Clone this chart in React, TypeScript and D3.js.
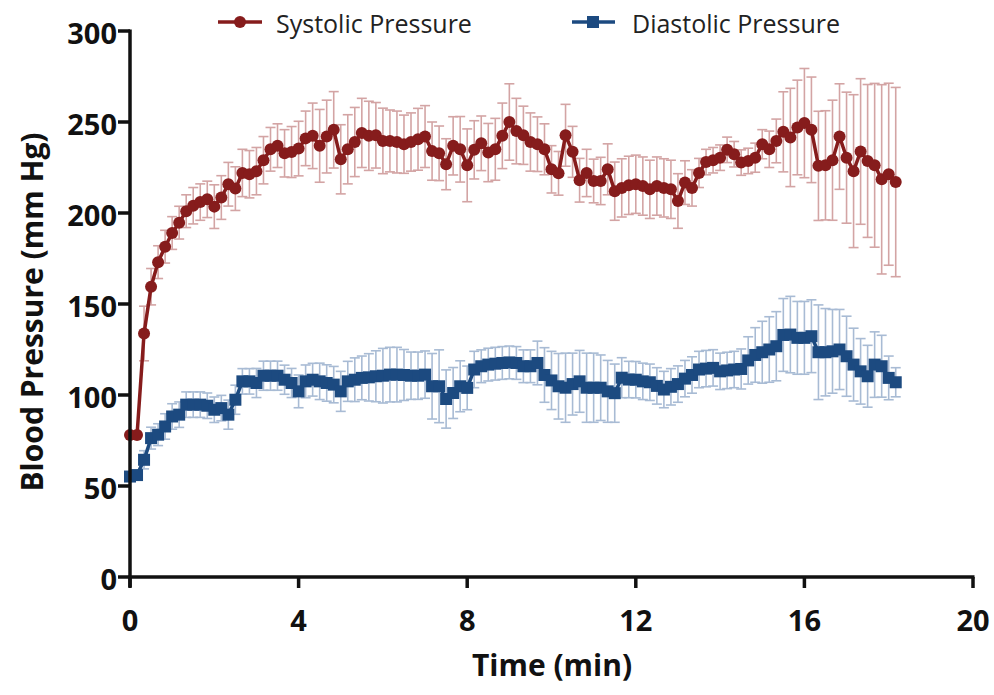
import React from 'react';
import * as d3 from 'd3';

// one sample every 10 s
const SAMPLE_SEC = 10;

const systolic = [
  78, 78, 133.8, 159.5, 173, 181.5, 189, 194.7, 201, 204,
  206, 207.5, 203.5, 208.5, 215.8, 213.4, 222, 221.3, 223, 229,
  235, 237, 232.8, 233.5, 235.4, 241, 242.4, 236.9, 242, 245.7,
  229.5, 235, 239, 244, 242.4, 242.7, 239.6, 239.6, 239, 237.8,
  239, 240.5, 242, 234, 232.8, 226.8, 236.9, 235, 226.2, 234.7,
  238.3, 233.2, 235, 242.4, 250, 245, 242.7, 239, 237.8, 235,
  224, 221.8, 242.7, 233.6, 218, 222, 217.6, 217.6, 224, 212,
  213.8, 215.2, 215.8, 214.8, 213, 214.8, 213.8, 213, 206.6, 216.7,
  213.8, 222, 228, 229, 230.4, 234.7, 232.3, 227.7, 228.6, 230.4,
  237.8, 235, 239.6, 244.6, 241.5, 247, 249.4, 245.7, 225.9, 226.2,
  229, 242, 230.4, 223, 233.8, 228.6, 226.2, 218.5, 221.3, 217,
];

const systolicSD = [
  1, 1, 15, 10, 9, 9, 9, 9, 9, 10,
  10, 10, 12, 12, 12, 12, 13, 13, 13, 13,
  12, 12, 13, 14, 15, 15, 18, 20, 20, 21,
  19, 19, 19, 19, 19, 18, 18, 17, 17, 16,
  16, 17, 17, 16, 15, 14, 16, 18, 20, 16,
  15, 16, 17, 18, 21, 18, 16, 16, 15, 14,
  13, 12, 17, 14, 12, 13, 12, 13, 14, 16,
  16, 16, 16, 16, 16, 16, 16, 16, 15, 12,
  10, 8, 7, 7, 7, 7, 7, 7, 7, 8,
  8, 10, 12, 22, 27, 26, 30, 29, 30, 30,
  33, 29, 36, 42, 40, 42, 45, 52, 50, 52,
];

const diastolic = [
  55.2, 56, 64.4, 76.3, 78.2, 82.7, 88.2, 89.2, 94.7, 94.7,
  94.7, 94.1, 91.9, 92.8, 89.2, 97.4, 107.5, 107.5, 106.6, 110.6,
  110.6, 110.6, 108.4, 106.6, 102, 107.5, 108.4, 107.5, 106.6, 105.7,
  102, 107.5, 108.4, 109.4, 109.7, 110.3, 110.6, 111.2, 111.2, 111,
  110.6, 110.6, 111.2, 104.8, 104.8, 97.8, 101.1, 104.8, 103.9, 114,
  115.8, 116.7, 117.2, 117.6, 117.9, 117.6, 115.8, 115.8, 117.6, 111,
  108, 104.8, 104, 106, 107.5, 104, 104, 104, 102, 101,
  109.5, 108.5, 108.4, 107.5, 107, 105, 103, 104.5, 106, 109,
  111, 114, 114.5, 114.9, 113, 113.5, 114, 114.3, 119, 122,
  123.5, 125, 126.8, 133, 133.2, 131.4, 131.4, 132.3, 123.5, 123.5,
  124, 125, 121.3, 116.7, 113, 110.3, 116.7, 115.8, 109.4, 107,
];

const diastolicSD = [
  2, 2, 5, 6, 6, 7, 7, 7, 7, 7,
  7, 7, 7, 7, 8, 8, 7, 7, 8, 8,
  8, 8, 8, 8, 9, 9, 9, 10, 10, 10,
  11, 11, 12, 12, 13, 14, 15, 15, 15, 14,
  13, 13, 13, 18, 20, 16, 14, 14, 12, 10,
  9, 9, 9, 9, 9, 9, 9, 9, 12, 15,
  16, 18, 19, 17, 17, 19, 19, 18, 17, 16,
  11, 10, 10, 10, 10, 10, 10, 10, 10, 10,
  10, 10, 10, 10, 10, 10, 10, 11, 13, 15,
  17, 18, 19, 20, 21, 20, 20, 20, 26, 24,
  23, 22, 22, 20, 18, 17, 18, 17, 12, 8,
];

const xTicks = [0, 4, 8, 12, 16, 20];
const yTicks = [0, 50, 100, 150, 200, 250, 300];

const legendItems = ['Systolic Pressure', 'Diastolic Pressure'];

const W = 994;
const H = 695;
const RED = '#861c1c';
const RED_ERR = '#d3a4a4';
const BLUE = '#1c4a80';
const BLUE_ERR = '#a8bbd4';
const FONT = '"Open Sans", "DejaVu Sans", sans-serif';

type Pt = { t: number; v: number; sd: number };

const toPoints = (vals: number[], sds: number[]): Pt[] =>
  vals.map((v, i) => ({ t: (i * SAMPLE_SEC) / 60, v, sd: sds[i] }));

const App: React.FC = () => {
  const x = d3.scaleLinear().domain([0, 20]).range([130, 973]);
  const y = d3.scaleLinear().domain([0, 300]).range([577, 31]);

  const sys = toPoints(systolic, systolicSD);
  const dia = toPoints(diastolic, diastolicSD);

  const line = d3
    .line<Pt>()
    .x((d) => x(d.t))
    .y((d) => y(d.v));

  const errorBars = (pts: Pt[], color: string) =>
    pts.map((d, i) => {
      const cx = x(d.t);
      const top = y(d.v + d.sd);
      const bot = y(d.v - d.sd);
      return (
        <g key={i} stroke={color} strokeWidth={1.6} fill="none">
          <line x1={cx} x2={cx} y1={top} y2={bot} />
          <line x1={cx - 5} x2={cx + 5} y1={top} y2={top} />
          <line x1={cx - 5} x2={cx + 5} y1={bot} y2={bot} />
        </g>
      );
    });

  return (
    <svg
      width={W}
      height={H}
      style={{ position: 'absolute', left: 0, top: 0, background: '#fff' }}
      fontFamily={FONT}
    >
      {/* error bars behind the series */}
      {errorBars(sys, RED_ERR)}
      {errorBars(dia, BLUE_ERR)}

      {/* diastolic */}
      <path d={line(dia) || ''} fill="none" stroke={BLUE} strokeWidth={3.5} />
      {dia.map((d, i) => (
        <rect key={i} x={x(d.t) - 6} y={y(d.v) - 6} width={12} height={12} fill={BLUE} />
      ))}

      {/* systolic */}
      <path d={line(sys) || ''} fill="none" stroke={RED} strokeWidth={3.5} />
      {sys.map((d, i) => (
        <circle key={i} cx={x(d.t)} cy={y(d.v)} r={6} fill={RED} />
      ))}

      {/* axes */}
      <g stroke="#111" strokeWidth={3.5}>
        <line x1={130} x2={130} y1={y(300) - 1.5} y2={y(0) + 10} />
        <line x1={130 - 1.5} x2={x(20) + 1.5} y1={y(0)} y2={y(0)} />
        {xTicks.map((t) => (
          <line key={t} x1={x(t)} x2={x(t)} y1={y(0)} y2={y(0) + 11} />
        ))}
        {yTicks.map((t) => (
          <line key={t} x1={118} x2={130} y1={y(t)} y2={y(t)} />
        ))}
      </g>
      <g fontWeight="bold" fontSize={29} fill="#111">
        {xTicks.map((t) => (
          <text key={t} x={x(t)} y={631} textAnchor="middle">
            {t}
          </text>
        ))}
        {yTicks.map((t) => (
          <text key={t} x={117} y={y(t) + 1} textAnchor="end" dominantBaseline="central">
            {t}
          </text>
        ))}
      </g>
      <text x={552} y={676} textAnchor="middle" fontWeight="bold" fontSize={30} fill="#111">
        Time (min)
      </text>
      <text
        transform={`translate(31,${y(150) + 8}) rotate(-90)`}
        textAnchor="middle"
        dominantBaseline="central"
        fontWeight="bold"
        fontSize={30}
        fill="#111"
      >
        Blood Pressure (mm Hg)
      </text>

      {/* legend */}
      <g>
        <line x1={218} x2={262} y1={22} y2={22} stroke={RED} strokeWidth={3.5} />
        <circle cx={240} cy={22} r={6} fill={RED} />
        <text x={276} y={23} dominantBaseline="central" fontSize={25} fill="#222">
          {legendItems[0]}
        </text>
        <line x1={572} x2={615} y1={22} y2={22} stroke={BLUE} strokeWidth={3.5} />
        <rect x={593 - 6} y={22 - 6} width={12} height={12} fill={BLUE} />
        <text x={632} y={23} dominantBaseline="central" fontSize={25} fill="#222">
          {legendItems[1]}
        </text>
      </g>
    </svg>
  );
};

export default App;
